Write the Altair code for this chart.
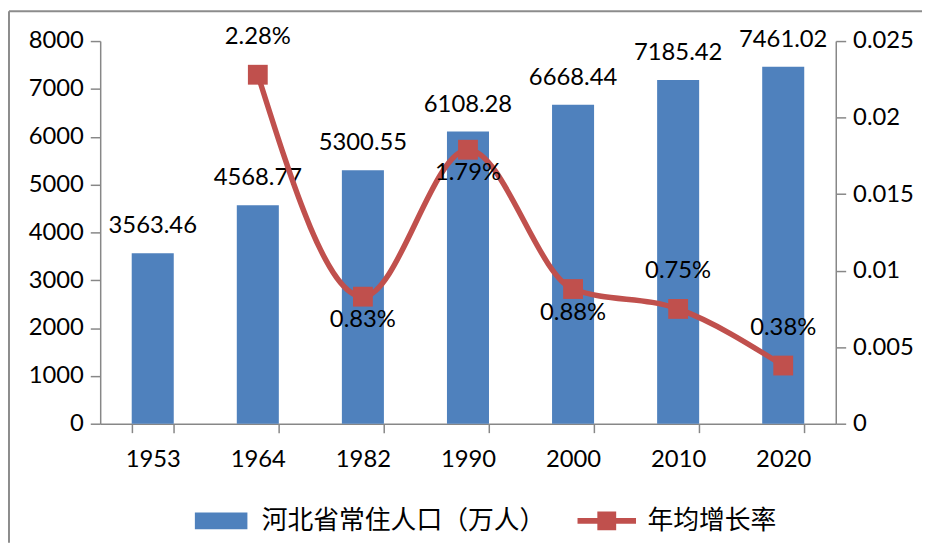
import altair as alt
import pandas as pd

# ---- data ----
years = ["1953", "1964", "1982", "1990", "2000", "2010", "2020"]
population = [3563.46, 4568.77, 5300.55, 6108.28, 6668.44, 7185.42, 7461.02]
rate_years = ["1964", "1982", "1990", "2000", "2010", "2020"]
rates = [0.0228, 0.0083, 0.0179, 0.0088, 0.0075, 0.0038]
rate_label_side = ["above", "below", "below", "below", "above", "above"]
series_names = ["河北省常住人口（万人）", "年均增长率"]
left_ticks = [0, 1000, 2000, 3000, 4000, 5000, 6000, 7000, 8000]
right_ticks = [0, 0.005, 0.01, 0.015, 0.02, 0.025]

pop_df = pd.DataFrame({"year": years, "pop": population})
rate_df = pd.DataFrame({"year": rate_years, "rate": rates, "side": rate_label_side})
legend_df = pd.DataFrame({"series": series_names})

BLUE = "#4F81BD"
RED = "#C0504D"
AXIS_GREY = "#878787"
NUM_FONT = "Lato"
CJK_FONT = "Noto Sans CJK SC"
FS = 24

x_enc = alt.X(
    "year:N",
    sort=years,
    scale=alt.Scale(domain=years, paddingInner=0.6, paddingOuter=0.3),
    axis=alt.Axis(
        title=None, labelAngle=0, tickBand="extent", tickSize=9,
        labelPadding=15, labelFont=NUM_FONT, labelFontSize=FS, labelColor="black",
        domainColor=AXIS_GREY, tickColor=AXIS_GREY, domainWidth=1.5, tickWidth=1.5,
        grid=False,
    ),
)

y_left = alt.Y(
    "pop:Q",
    scale=alt.Scale(domain=[0, 8000], nice=False),
    axis=alt.Axis(
        title=None, orient="left", values=left_ticks, format="d", grid=False,
        tickSize=10, labelPadding=7, labelFont=NUM_FONT, labelFontSize=FS,
        labelColor="black", domainColor=AXIS_GREY, tickColor=AXIS_GREY,
        domainWidth=1.5, tickWidth=1.5,
    ),
)

y_right = alt.Y(
    "rate:Q",
    scale=alt.Scale(domain=[0, 0.025], nice=False),
    axis=alt.Axis(
        title=None, orient="right", values=right_ticks, format="~f", grid=False,
        tickSize=10, labelPadding=7, labelFont=NUM_FONT, labelFontSize=FS,
        labelColor="black", domainColor=AXIS_GREY, tickColor=AXIS_GREY,
        domainWidth=1.5, tickWidth=1.5,
    ),
)

bars = alt.Chart(pop_df).mark_bar(color=BLUE).encode(x=x_enc, y=y_left)
bar_text = alt.Chart(pop_df).mark_text(
    dy=-20, baseline="alphabetic", font=NUM_FONT, fontSize=FS, color="black"
).encode(x=x_enc, y=y_left, text=alt.Text("pop:Q", format=".2f"))

left_layer = alt.layer(bars, bar_text)

line = alt.Chart(rate_df).mark_line(
    color=RED, strokeWidth=5.5, interpolate="monotone"
).encode(x=x_enc, y=y_right)
points = alt.Chart(rate_df).mark_square(
    color=RED, size=400, opacity=1
).encode(x=x_enc, y=y_right)
above_text = alt.Chart(rate_df).transform_filter(
    alt.datum.side == "above"
).mark_text(
    dy=-31, baseline="alphabetic", font=NUM_FONT, fontSize=FS, color="black"
).encode(x=x_enc, y=y_right, text=alt.Text("rate:Q", format=".2%"))
below_text = alt.Chart(rate_df).transform_filter(
    alt.datum.side == "below"
).mark_text(
    dy=31, baseline="alphabetic", font=NUM_FONT, fontSize=FS, color="black"
).encode(x=x_enc, y=y_right, text=alt.Text("rate:Q", format=".2%"))

right_layer = alt.layer(line, points, above_text, below_text)

# frame lines of the chart area (top and left edges)
frame_df = pd.DataFrame({"k": [0]})
top_rule = alt.Chart(frame_df).mark_rule(color="#8C8C8C", strokeWidth=2).encode(
    x=alt.value(-92), x2=alt.value(829), y=alt.value(-30)
)
left_rule = alt.Chart(frame_df).mark_rule(color="#8C8C8C", strokeWidth=2).encode(
    x=alt.value(-92), y=alt.value(-30), y2=alt.value(506)
)

# legend
rect_path = "M-2.65,-0.85H2.65V0.85H-2.65Z"
line_sq_path = "M-2.95,-0.3H2.95V0.3H-2.95Z M-0.95,-0.95H0.95V0.95H-0.95Z"
legend_props = dict(
    title=None, orient="none", legendX=109, legendY=471, direction="horizontal",
    labelFont=CJK_FONT, labelFontSize=26, labelColor="black", labelLimit=500,
    symbolSize=400, symbolStrokeWidth=0, symbolOpacity=1,
    labelOffset=28, columnPadding=31, padding=0,
)
legend_layer = alt.Chart(legend_df).mark_point(filled=True, opacity=0).encode(
    color=alt.Color(
        "series:N",
        scale=alt.Scale(domain=series_names, range=[BLUE, RED]),
        legend=alt.Legend(**legend_props),
    ),
    shape=alt.Shape(
        "series:N",
        scale=alt.Scale(domain=series_names, range=[rect_path, line_sq_path]),
        legend=alt.Legend(**legend_props),
    ),
)

chart = alt.layer(
    left_layer, right_layer, top_rule, left_rule, legend_layer
).resolve_scale(y="independent").properties(
    width=742, height=386, padding=0, background="white"
).configure_view(stroke=None)

chart.save("out.html", embed_options={"renderer": "svg", "actions": False})
